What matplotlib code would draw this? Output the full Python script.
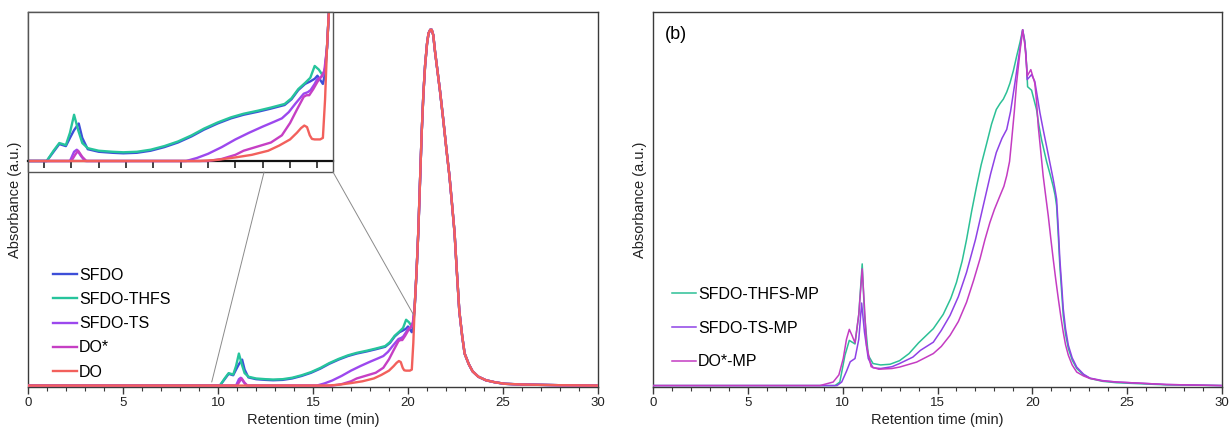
import matplotlib
matplotlib.use("Agg")
import matplotlib.pyplot as plt
from matplotlib.patches import Rectangle, ConnectionPatch
from matplotlib.ticker import MultipleLocator

plt.rcParams['font.family'] = ['Liberation Sans', 'DejaVu Sans']

# shared main elution peak (panel a)
peak_t = [20.35, 20.45, 20.54, 20.63, 20.72, 20.81, 20.9, 21.0, 21.08, 21.17, 21.25,
          21.33, 21.42, 21.55, 21.68, 21.85, 22.03, 22.18, 22.3, 22.45, 22.56, 22.7,
          22.85, 22.98, 23.2, 23.4, 23.7, 24.1, 24.6, 25.1, 26.0, 27.0, 28.0, 30.0]
peak_v = [0.22, 0.32, 0.43, 0.57, 0.71, 0.82, 0.9, 0.96, 0.99, 1.0, 1.0,
          0.985, 0.94, 0.885, 0.83, 0.75, 0.66, 0.59, 0.52, 0.43, 0.33, 0.21,
          0.14, 0.09, 0.06, 0.04, 0.025, 0.015, 0.009, 0.005, 0.003, 0.002, 0.001, 0.0]

sfdo_t = [0, 10.1, 10.35, 10.56, 10.8, 10.95, 11.1, 11.27, 11.4, 11.6, 12.0, 12.5, 12.9,
          13.4, 13.9, 14.4, 14.9, 15.4, 15.85, 16.35, 16.84, 17.3, 17.83, 18.3, 18.8,
          19.05, 19.3, 19.55, 19.74, 19.9, 20.0, 20.1, 20.2, 20.28]
sfdo_v = [0, 0, 0.018, 0.033, 0.029, 0.045, 0.06, 0.073, 0.045, 0.023, 0.018, 0.016, 0.015,
          0.016, 0.02, 0.027, 0.036, 0.048, 0.061, 0.073, 0.083, 0.09, 0.096, 0.102, 0.109,
          0.12, 0.138, 0.15, 0.155, 0.16, 0.166, 0.158, 0.15, 0.17]

thfs_t = [0, 10.1, 10.35, 10.56, 10.8, 10.95, 11.1, 11.25, 11.4, 11.6, 12.0, 12.5, 12.9,
          13.4, 13.9, 14.4, 14.9, 15.4, 15.85, 16.35, 16.84, 17.3, 17.83, 18.3, 18.8,
          19.05, 19.3, 19.55, 19.74, 19.9, 20.05, 20.2, 20.28]
thfs_v = [0, 0, 0.02, 0.035, 0.031, 0.055, 0.09, 0.06, 0.035, 0.025, 0.02, 0.018, 0.017,
          0.018, 0.022, 0.029, 0.038, 0.05, 0.063, 0.075, 0.085, 0.092, 0.098, 0.104, 0.111,
          0.122, 0.14, 0.152, 0.162, 0.185, 0.178, 0.166, 0.18]

ts_t = [0, 10.95, 11.1, 11.2, 11.35, 11.5, 15.2, 15.6, 16.0, 16.5, 17.0, 17.5, 18.0, 18.4,
        18.7, 18.95, 19.2, 19.5, 19.65, 19.75, 19.9, 20.0, 20.1, 20.2, 20.28]
ts_v = [0, 0, 0.018, 0.022, 0.01, 0, 0, 0.006, 0.014, 0.027, 0.042, 0.055, 0.067, 0.076,
        0.083, 0.095, 0.112, 0.131, 0.134, 0.138, 0.15, 0.16, 0.162, 0.166, 0.18]

dostar_t = [0, 11.0, 11.15, 11.25, 11.4, 11.55, 16.0, 16.5, 17.0, 17.3, 17.8, 18.3, 18.7,
            19.0, 19.25, 19.5, 19.6, 19.7, 19.85, 20.0, 20.15, 20.25]
dostar_v = [0, 0, 0.013, 0.02, 0.008, 0, 0, 0.004, 0.012, 0.02, 0.028, 0.036, 0.05,
            0.074, 0.1, 0.125, 0.128, 0.128, 0.14, 0.154, 0.165, 0.175]

do_t = [0, 15.7, 16.3, 17.0, 17.6, 18.2, 18.6, 19.0, 19.25, 19.4, 19.52, 19.62, 19.72,
        19.8, 19.9, 20.1, 20.2, 20.28]
do_v = [0, 0, 0.002, 0.007, 0.012, 0.02, 0.03, 0.042, 0.055, 0.064, 0.069, 0.066, 0.05,
        0.043, 0.042, 0.042, 0.045, 0.12]

# panel b
mp_thfs_t = [0, 9.6, 9.85, 10.12, 10.35, 10.5, 10.65, 10.85, 11.03, 11.15, 11.35, 11.6, 12.0,
             12.5, 13.0, 13.5, 14.0, 14.78, 15.3, 15.7, 16.0, 16.3, 16.53, 16.8, 17.06, 17.3,
             17.59, 17.85, 18.1, 18.3, 18.47, 18.65, 18.82, 19.0, 19.17, 19.35, 19.49, 19.6,
             19.7, 19.75, 19.96, 20.22, 20.35, 20.49, 20.62, 20.75, 20.93, 21.1, 21.2, 21.28,
             21.37, 21.45, 21.55, 21.63, 21.75, 21.9, 22.1, 22.34, 22.7, 23.04, 23.7, 24.44,
             27.07, 30]
mp_thfs_v = [0, 0, 0.01, 0.085, 0.127, 0.122, 0.117, 0.2, 0.342, 0.2, 0.085, 0.062, 0.058,
             0.06, 0.07, 0.09, 0.12, 0.16, 0.2, 0.245, 0.29, 0.35, 0.41, 0.49, 0.56, 0.62,
             0.68, 0.735, 0.776, 0.793, 0.805, 0.825, 0.85, 0.885, 0.925, 0.965, 1.0, 0.97,
             0.9, 0.84, 0.83, 0.776, 0.73, 0.69, 0.66, 0.63, 0.595, 0.56, 0.535, 0.505,
             0.42, 0.337, 0.26, 0.197, 0.145, 0.104, 0.072, 0.048, 0.03, 0.02, 0.012, 0.008,
             0.002, 0]

mp_ts_t = [0, 9.7, 9.95, 10.2, 10.4, 10.65, 10.85, 11.0, 11.15, 11.35, 11.6, 12.0, 12.6, 13.0,
           13.7, 14.1, 14.78, 15.2, 15.66, 16.1, 16.53, 17.0, 17.41, 17.8, 18.1, 18.4, 18.65,
           18.85, 19.08, 19.3, 19.49, 19.6, 19.66, 19.73, 19.96, 20.13, 20.27, 20.4, 20.57,
           20.75, 20.93, 21.1, 21.2, 21.28, 21.37, 21.45, 21.55, 21.63, 21.75, 21.9, 22.1,
           22.34, 22.7, 23.04, 23.7, 24.44, 27.07, 30]
mp_ts_v = [0, 0, 0.01, 0.04, 0.067, 0.076, 0.13, 0.232, 0.15, 0.076, 0.05, 0.048, 0.053, 0.062,
           0.08, 0.099, 0.122, 0.155, 0.197, 0.25, 0.318, 0.41, 0.505, 0.595, 0.655, 0.695, 0.72,
           0.77, 0.85, 0.93, 1.0, 0.965, 0.935, 0.86, 0.874, 0.855, 0.81, 0.767, 0.72,
           0.673, 0.625, 0.58, 0.55, 0.524, 0.44, 0.356, 0.28, 0.216, 0.16, 0.113, 0.078,
           0.052, 0.032, 0.021, 0.014, 0.01, 0.003, 0]

mp_dostar_t = [0, 8.8, 9.5, 9.8, 10.03, 10.2, 10.35, 10.5, 10.65, 10.85, 11.03, 11.15, 11.26,
               11.5, 11.9, 12.6, 13.0, 13.9, 14.78, 15.2, 15.66, 16.1, 16.53, 16.9, 17.24,
               17.5, 17.76, 18.0, 18.29, 18.5, 18.65, 18.8, 18.91, 19.05, 19.17, 19.35, 19.49,
               19.6, 19.66, 19.73, 19.92, 20.13, 20.22, 20.31, 20.44, 20.57, 20.7, 20.84, 20.97,
               21.1, 21.23, 21.37, 21.5, 21.63, 21.75, 21.9, 22.1, 22.34, 22.7, 23.04, 23.7,
               24.44, 27.07, 30]
mp_dostar_v = [0, 0, 0.01, 0.03, 0.076, 0.13, 0.158, 0.14, 0.12, 0.2, 0.328, 0.22, 0.113,
               0.053, 0.046, 0.048, 0.052, 0.066, 0.09, 0.11, 0.141, 0.18, 0.234, 0.295, 0.356,
               0.41, 0.458, 0.495, 0.533, 0.56, 0.59, 0.63, 0.69, 0.77, 0.85, 0.94, 1.0,
               0.96, 0.925, 0.87, 0.888, 0.85, 0.8, 0.73, 0.66, 0.59, 0.535, 0.477, 0.415,
               0.356, 0.3, 0.244, 0.195, 0.15, 0.115, 0.085, 0.058, 0.038, 0.027, 0.02, 0.013,
               0.01, 0.003, 0]

series_a = [
    ("SFDO", sfdo_t, sfdo_v, "#3d4fd8"),
    ("SFDO-THFS", thfs_t, thfs_v, "#26c49c"),
    ("SFDO-TS", ts_t, ts_v, "#9c48ee"),
    ("DO*", dostar_t, dostar_v, "#c63fc4"),
    ("DO", do_t, do_v, "#f2605c"),
]
series_b = [
    ("SFDO-THFS-MP", mp_thfs_t, mp_thfs_v, "#2cc096"),
    ("SFDO-TS-MP", mp_ts_t, mp_ts_v, "#8e42e6"),
    ("DO*-MP", mp_dostar_t, mp_dostar_v, "#c43cc2"),
]

W, H = 1232, 433
fig = plt.figure(figsize=(W / 100, H / 100), dpi=100)
ax1 = fig.add_axes([28 / W, 46 / H, 570 / W, 375 / H])
ax2 = fig.add_axes([653 / W, 46 / H, 569 / W, 375 / H])

spine_c = "#3a3a3a"


def style_axis(ax):
    ax.set_xlim(0, 30)
    ax.set_ylim(-0.004, 1.05)
    ax.set_yticks([])
    ax.xaxis.set_major_locator(MultipleLocator(5))
    ax.xaxis.set_minor_locator(MultipleLocator(1))
    ax.tick_params(axis='x', which='major', direction='out', length=5, width=1,
                   color=spine_c, labelsize=9.5, pad=2, labelcolor="#222")
    ax.tick_params(axis='x', which='minor', direction='out', length=3, width=0.8, color=spine_c)
    for s in ax.spines.values():
        s.set_color(spine_c)
        s.set_linewidth(1.0)
    ax.set_xlabel("Retention time (min)", fontsize=10.5, labelpad=3, color="#222")
    ax.set_ylabel("Absorbance (a.u.)", fontsize=10.5, labelpad=4, color="#222")


style_axis(ax1)
style_axis(ax2)

for name, t, v, c in series_a:
    ax1.plot(t + peak_t, v + peak_v, color=c, lw=1.7, label=name, zorder=3)

for name, t, v, c in series_b:
    ax2.plot(t, v, color=c, lw=1.1, label=name, zorder=3)

ax1.text(0.021, 0.94, "(a)", transform=ax1.transAxes, fontsize=13, va='center', ha='left')
ax2.text(0.021, 0.94, "(b)", transform=ax2.transAxes, fontsize=13, va='center', ha='left')

ax1.legend(loc='center left', bbox_to_anchor=(0.044, 0.169), frameon=False, fontsize=11.5,
           handlelength=1.5, handletextpad=0.12, labelspacing=0.58, borderpad=0,
           borderaxespad=0)
ax2.legend(loc='center left', bbox_to_anchor=(0.0334, 0.157), frameon=False, fontsize=11.5,
           handlelength=1.5, handletextpad=0.12, labelspacing=1.18, borderpad=0,
           borderaxespad=0)

# inset (zoom of 9.4-20.6 min)
axin = fig.add_axes([28 / W, (H - 172) / H, 305 / W, 160 / H])
for name, t, v, c in series_a:
    axin.plot(t + peak_t, v + peak_v, color=c, lw=1.7, zorder=3)
axin.set_xlim(9.415, 20.57)
axin.set_ylim(-0.0214, 0.29)
axin.set_yticks([])
axin.xaxis.set_major_locator(MultipleLocator(1))
axin.tick_params(axis='x', direction='out', length=5, width=1.1, color="#111", labelbottom=False)
for k in ('top', 'left', 'right'):
    axin.spines[k].set_visible(False)
axin.spines['bottom'].set_position(('data', 0))
axin.spines['bottom'].set_color("#111")
axin.spines['bottom'].set_linewidth(1.6)
axin.add_patch(Rectangle((0, 0), 1, 1, transform=axin.transAxes, fill=False,
                         edgecolor="#555", lw=1.0, clip_on=False, zorder=5))

for xa, xb, yb in [(0.774, 9.67, 0.01), (1.0, 20.28, 0.2)]:
    cp = ConnectionPatch(xyA=(xa, 0), coordsA=axin.transAxes, xyB=(xb, yb), coordsB=ax1.transData,
                         color="#8a8a8a", lw=0.7, zorder=1)
    fig.add_artist(cp)

fig.savefig("out.png", dpi=100)
